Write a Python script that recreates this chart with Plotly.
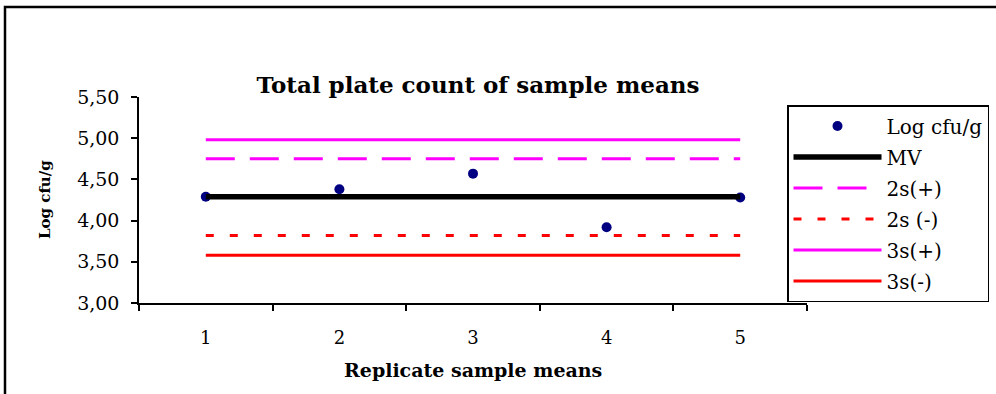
import plotly.graph_objects as go

categories = ["1", "2", "3", "4", "5"]
log_cfu = [4.29, 4.38, 4.57, 3.92, 4.28]
mv = [4.29, 4.29, 4.29, 4.29, 4.29]
s2_plus = [4.75, 4.75, 4.75, 4.75, 4.75]
s2_minus = [3.82, 3.82, 3.82, 3.82, 3.82]
s3_plus = [4.98, 4.98, 4.98, 4.98, 4.98]
s3_minus = [3.58, 3.58, 3.58, 3.58, 3.58]
y_ticks = [3.0, 3.5, 4.0, 4.5, 5.0, 5.5]

W, H = 996, 394
L, R, T, B = 139, 189, 97, 91
pw, ph = W - L - R, H - T - B
FONT = "DejaVu Serif"

fig = go.Figure()
fig.add_trace(go.Scatter(x=categories, y=log_cfu, mode="markers", name="Log cfu/g",
                         marker=dict(color="#000080", size=10), legendgroup="a"))
fig.add_trace(go.Scatter(x=categories, y=mv, mode="lines", name="MV",
                         line=dict(color="black", width=5.5), legendgroup="b"))
fig.add_trace(go.Scatter(x=categories, y=s2_plus, mode="lines", name="2s(+)",
                         line=dict(color="#FF00FF", width=3, dash="29px,15px"), legendgroup="c"))
fig.add_trace(go.Scatter(x=categories, y=s2_minus, mode="lines", name="2s (-)",
                         line=dict(color="#FF0000", width=3, dash="8px,16px"), legendgroup="d"))
fig.add_trace(go.Scatter(x=categories, y=s3_plus, mode="lines", name="3s(+)",
                         line=dict(color="#FF00FF", width=3), legendgroup="e"))
fig.add_trace(go.Scatter(x=categories, y=s3_minus, mode="lines", name="3s(-)",
                         line=dict(color="#FF0000", width=3), legendgroup="f"))

def px_x(p):
    return (p - L) / pw

def px_y(p):
    return (H - B - p) / ph

fig.update_layout(
    width=W, height=H,
    margin=dict(l=L, r=R, t=T, b=B, pad=0, autoexpand=False),
    paper_bgcolor="white", plot_bgcolor="white",
    separators=",.",
    font=dict(family=FONT, size=18, color="black"),
    title=dict(text="<b>Total plate count of sample means</b>", x=478 / W, xanchor="center",
               y=1 - 85 / H, yanchor="middle", font=dict(family=FONT, size=23, color="black")),
    xaxis=dict(type="category", range=[-0.5, 4.5], tickson="boundaries", ticks="outside",
               ticklen=6, tickwidth=1.5, tickcolor="black", showline=True, linecolor="black",
               linewidth=1.5, showgrid=False, zeroline=False,
               tickfont=dict(family=FONT, size=18), ticklabelstandoff=18),
    yaxis=dict(range=[3.0, 5.5], tickvals=y_ticks, tickformat=".2f", ticks="outside",
               ticklen=6, tickwidth=1.5, tickcolor="black", showline=True, linecolor="black",
               linewidth=1.5, showgrid=False, zeroline=False,
               tickfont=dict(family=FONT, size=19), ticklabelstandoff=8),
    legend=dict(x=px_x(787), y=px_y(105), xanchor="left", yanchor="top",
                bgcolor="white", bordercolor="black", borderwidth=1.5,
                font=dict(family=FONT, size=20, color="black"),
                itemwidth=88, tracegroupgap=2, traceorder="grouped"),
    showlegend=True,
    annotations=[
        dict(text="<b>Replicate sample means</b>", xref="paper", yref="paper",
             x=px_x(473), y=px_y(370), xanchor="center", yanchor="middle", showarrow=False,
             font=dict(family=FONT, size=19)),
        dict(text="<b>Log cfu/g</b>", xref="paper", yref="paper", textangle=-90,
             x=px_x(45), y=px_y(200), xanchor="center", yanchor="middle", showarrow=False,
             font=dict(family=FONT, size=15)),
    ],
    shapes=[
        dict(type="rect", xref="paper", yref="paper", x0=px_x(5), x1=px_x(1010),
             y0=px_y(410), y1=px_y(7), line=dict(color="black", width=2.5), layer="below"),
    ],
)

fig.write_html("out.html")
